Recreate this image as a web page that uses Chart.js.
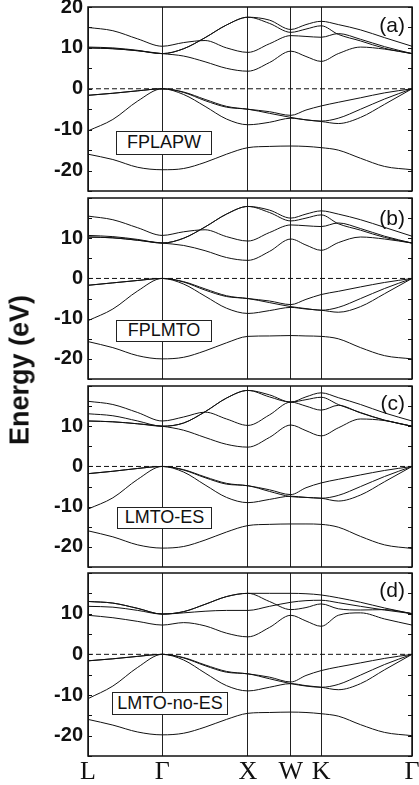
<!DOCTYPE html>
<html>
<head>
<meta charset="utf-8">
<script src="https://cdn.jsdelivr.net/npm/chart.js@4.4.1/dist/chart.umd.min.js"></script>
<style>
  body { margin: 0; background: #fff; }
  #fig { position: relative; width: 419px; height: 785px; overflow: hidden; font-family: 'Liberation Sans', Arial, sans-serif; color: #111; }
  #fig canvas { position: absolute; left: 0; }
  .tag { position: absolute; right: 14px; font-size: 21px; line-height: 22px; }
  .box { position: absolute; box-sizing: border-box; border: 1.5px solid #222; background: #fff; font-size: 18px; text-align: center; }
  .ylab { position: absolute; left: 20px; top: 370px; transform: translate(-50%, -50%) rotate(-90deg); font-size: 27px; font-weight: bold; white-space: nowrap; }
</style>
</head>
<body>
<div id="fig">
  <canvas id="pa" width="419" height="198" style="top:0"></canvas>
  <canvas id="pb" width="419" height="195" style="top:191px"></canvas>
  <canvas id="pc" width="419" height="195" style="top:379px"></canvas>
  <canvas id="pd" width="419" height="219" style="top:566px"></canvas>
  <div class="ylab">Energy (eV)</div>
  <div class="tag" style="top:14px">(a)</div>
  <div class="tag" style="top:207px">(b)</div>
  <div class="tag" style="top:392px">(c)</div>
  <div class="tag" style="top:579px">(d)</div>
  <div class="box" style="left:116px;top:131px;width:96px;height:24px;line-height:21px">FPLAPW</div>
  <div class="box" style="left:116px;top:320px;width:96px;height:22px;line-height:19px">FPLMTO</div>
  <div class="box" style="left:117px;top:507px;width:95px;height:22px;line-height:19px">LMTO-ES</div>
  <div class="box" style="left:112px;top:692px;width:116px;height:23px;line-height:20px">LMTO-no-ES</div>
</div>
<script>
// k-path L-Γ-X-W-K-Γ (fcc), distances in units of 2π/a
const K_PATH = [0, 0.29, 0.58, 0.866, 1.116, 1.366, 1.616, 1.866, 2.116, 2.366, 2.543, 2.72, 2.92, 3.18, 3.46, 3.78];
const SYM_K = [0, 0.866, 1.866, 2.366, 2.72, 3.78];
const SYM_LABELS = ['L', 'Γ', 'X', 'W', 'K', 'Γ'];
const FERMI_K = [0, 3.78];
const FERMI_E = [0, 0];

// (a) FPLAPW
const A_S  = [-16.0, -17.3, -19.2, -19.8, -19.5, -18.0, -16.0, -14.4, -14.1, -14.0, -14.1, -14.4, -15.0, -17.0, -19.0, -19.8];
const A_V1 = [-10.3, -7.5, -3.0, 0, -1.4, -4.3, -7.4, -8.8, -8.2, -7.2, -7.6, -8.0, -8.5, -7.0, -3.8, 0];
const A_V2 = [-1.6, -1.1, -0.5, 0, -0.8, -2.6, -4.3, -5.0, -5.6, -6.5, -5.2, -4.2, -3.3, -2.2, -1.0, 0];
const A_V3 = [-1.6, -1.1, -0.5, 0, -0.9, -2.9, -4.5, -5.0, -6.0, -7.0, -7.6, -7.9, -7.2, -5.0, -2.5, 0];
const A_C1 = [10.0, 9.8, 9.3, 8.6, 8.0, 6.6, 5.0, 4.3, 6.4, 9.2, 7.9, 6.7, 8.6, 10.2, 9.7, 8.6];
const A_C2 = [15.0, 14.2, 12.2, 10.4, 11.3, 11.8, 10.0, 8.9, 11.0, 13.0, 12.8, 12.6, 13.5, 12.1, 10.3, 8.6];
const A_C3 = [10.2, 10.0, 9.4, 8.6, 9.8, 12.5, 15.6, 17.5, 16.8, 14.5, 15.7, 16.5, 15.7, 14.4, 12.5, 10.4];
const A_C4 = [10.0, 9.8, 9.3, 8.6, 9.8, 12.5, 15.6, 17.5, 16.0, 13.8, 14.6, 15.4, 13.3, 11.7, 9.9, 8.6];

// (b) FPLMTO
const B_S  = [-15.7, -17.2, -19.2, -20.0, -19.6, -18.0, -16.0, -14.4, -14.3, -14.2, -14.3, -14.4, -15.0, -17.2, -19.2, -20.0];
const B_V1 = [-10.5, -7.6, -3.1, 0, -1.4, -4.4, -7.4, -8.7, -8.0, -7.2, -7.6, -7.9, -8.4, -7.0, -3.8, 0];
const B_V2 = [-1.7, -1.1, -0.5, 0, -0.8, -2.6, -4.3, -5.0, -5.6, -6.5, -5.2, -4.0, -3.2, -2.1, -1.0, 0];
const B_V3 = [-1.7, -1.1, -0.5, 0, -0.9, -2.9, -4.5, -5.0, -6.0, -7.0, -7.5, -7.9, -7.2, -5.0, -2.5, 0];
const B_C1 = [10.3, 10.1, 9.5, 8.8, 8.2, 6.9, 5.2, 4.5, 6.7, 9.8, 8.3, 7.0, 8.9, 10.3, 9.8, 8.8];
const B_C2 = [15.5, 14.6, 12.6, 10.7, 11.6, 12.1, 10.4, 9.3, 11.4, 13.3, 13.1, 12.9, 13.8, 12.4, 10.5, 8.8];
const B_C3 = [10.7, 10.4, 9.7, 8.8, 10.0, 12.8, 16.0, 17.9, 17.0, 15.0, 16.0, 16.8, 16.0, 14.6, 12.7, 10.5];
const B_C4 = [10.3, 10.1, 9.5, 8.8, 10.0, 12.8, 16.0, 17.9, 16.4, 14.3, 15.0, 15.8, 13.6, 12.0, 10.2, 8.8];

// (c) LMTO-ES
const C_S  = [-16.0, -17.5, -19.5, -20.3, -19.9, -18.3, -16.3, -14.7, -14.4, -14.3, -14.3, -14.4, -15.1, -17.4, -19.5, -20.4];
const C_V1 = [-10.6, -7.8, -3.2, 0, -1.4, -4.6, -7.7, -9.0, -8.2, -7.4, -7.7, -7.9, -8.6, -7.1, -3.8, 0];
const C_V2 = [-1.8, -1.2, -0.5, 0, -0.8, -2.6, -4.2, -4.8, -5.8, -7.0, -5.3, -4.1, -3.2, -2.1, -1.0, 0];
const C_V3 = [-1.8, -1.2, -0.5, 0, -0.9, -2.8, -4.4, -4.8, -6.2, -7.5, -7.7, -7.9, -7.2, -5.0, -2.5, 0];
const C_C1 = [11.3, 11.1, 10.6, 10.0, 9.0, 7.2, 5.5, 4.8, 7.2, 10.3, 8.9, 7.6, 9.6, 11.8, 11.4, 10.0];
const C_C2 = [16.2, 15.4, 13.4, 11.3, 12.3, 13.5, 11.8, 10.2, 12.8, 16.0, 15.0, 14.0, 15.2, 13.3, 11.5, 10.0];
const C_C3 = [13.1, 12.6, 11.3, 10.0, 10.8, 13.6, 17.0, 18.9, 17.8, 16.0, 17.3, 18.3, 17.1, 15.4, 13.3, 11.3];
const C_C4 = [11.3, 11.1, 10.6, 10.0, 10.8, 13.6, 17.0, 18.9, 17.3, 16.0, 16.6, 17.2, 15.4, 13.4, 11.5, 10.0];

// (d) LMTO-no-ES
const D_S  = [-16.0, -17.4, -19.1, -19.8, -19.4, -17.9, -16.0, -14.5, -14.3, -14.2, -14.3, -14.6, -15.2, -17.3, -19.2, -20.0];
const D_V1 = [-10.9, -7.8, -3.2, 0, -1.4, -4.6, -7.7, -9.0, -8.1, -7.2, -7.7, -8.1, -8.7, -7.2, -3.8, 0];
const D_V2 = [-1.6, -1.1, -0.5, 0, -0.8, -2.6, -4.2, -4.8, -5.6, -6.8, -5.2, -4.0, -3.1, -2.1, -1.0, 0];
const D_V3 = [-1.6, -1.1, -0.5, 0, -0.9, -2.8, -4.4, -4.8, -6.0, -7.2, -7.8, -8.1, -7.4, -5.1, -2.5, 0];
const D_C1 = [9.6, 9.0, 8.1, 7.2, 7.8, 7.0, 5.2, 4.3, 6.6, 9.6, 8.2, 6.9, 9.6, 10.2, 8.7, 7.2];
const D_C2 = [11.8, 11.6, 10.8, 9.9, 10.2, 10.6, 10.8, 10.8, 11.8, 12.8, 13.2, 13.3, 12.7, 11.8, 10.9, 10.0];
const D_C3 = [13.0, 12.6, 11.3, 9.9, 10.5, 12.3, 14.2, 15.0, 15.0, 15.0, 14.9, 14.6, 13.9, 12.8, 11.4, 10.0];
const D_C4 = [13.0, 12.6, 11.3, 9.9, 10.5, 12.3, 14.2, 15.0, 13.0, 11.0, 11.5, 12.4, 11.2, 10.9, 11.0, 10.0];

const INK = '#111';
const SANS = "'Liberation Sans', Arial, sans-serif";
const SERIF = "'Liberation Serif', 'Times New Roman', serif";

// box round the plot + short inward ticks on both sides
const frame = {
  id: 'frame',
  afterDatasetsDraw(chart) {
    const { ctx, chartArea: a, scales: { y } } = chart;
    ctx.save();
    ctx.strokeStyle = INK;
    ctx.lineWidth = 1.5;
    ctx.strokeRect(a.left, a.top, a.right - a.left, a.bottom - a.top);
    ctx.lineWidth = 1;
    ctx.beginPath();
    y.ticks.forEach((t) => {
      const py = Math.round(y.getPixelForValue(t.value)) + 0.5;
      ctx.moveTo(a.left, py); ctx.lineTo(a.left + 4, py);
      ctx.moveTo(a.right, py); ctx.lineTo(a.right - 4, py);
    });
    ctx.stroke();
    ctx.restore();
  },
};

function panel(id, bands, o) {
  const datasets = bands.map((b) => ({
    data: K_PATH.map((k, i) => ({ x: k, y: b[i] })),
    borderColor: INK, borderWidth: 1, pointRadius: 0, cubicInterpolationMode: 'monotone',
  }));
  datasets.push({
    data: FERMI_K.map((k, i) => ({ x: k, y: FERMI_E[i] })),
    borderColor: INK, borderWidth: 1, borderDash: [5, 3], pointRadius: 0,
  });
  new Chart(document.getElementById(id), {
    type: 'line',
    data: { datasets },
    options: {
      responsive: false, animation: false, events: [],
      layout: { padding: { top: 7, bottom: o.padBottom, left: 0, right: 7 } },
      plugins: { legend: { display: false }, tooltip: { enabled: false } },
      scales: {
        x: {
          type: 'linear', min: 0, max: 3.78,
          border: { display: false },
          grid: { color: '#222', lineWidth: 1, drawTicks: false, tickLength: 0 },
          afterBuildTicks: (s) => { s.ticks = SYM_K.map((v) => ({ value: v })); },
          ticks: {
            display: o.showK, autoSkip: false, maxRotation: 0, padding: 1, color: INK,
            font: { family: SERIF, size: 26 },
            callback: (v, i) => SYM_LABELS[i],
          },
          afterFit: (s) => { s.height = o.axisH; s.paddingLeft = 0; s.paddingRight = 0; },
        },
        y: {
          min: -25, max: 20,
          border: { display: false },
          grid: { drawOnChartArea: false, drawTicks: false, tickLength: 0 },
          ticks: {
            stepSize: 5, autoSkip: false, padding: 5, color: INK,
            font: { family: SANS, size: 20, weight: 'bold' },
            callback: (v) => (v % 10 === 0 && v > -25 && (v < 20 || o.showTop)) ? String(v) : '',
          },
          afterFit: (s) => { s.width = 88; s.paddingTop = 0; s.paddingBottom = 0; },
        },
      },
    },
    plugins: [frame],
  });
}

panel('pa', [A_S, A_V1, A_V2, A_V3, A_C1, A_C2, A_C3, A_C4], { showTop: true, showK: false, padBottom: 7, axisH: 0 });
panel('pb', [B_S, B_V1, B_V2, B_V3, B_C1, B_C2, B_C3, B_C4], { showTop: false, showK: false, padBottom: 7, axisH: 0 });
panel('pc', [C_S, C_V1, C_V2, C_V3, C_C1, C_C2, C_C3, C_C4], { showTop: false, showK: false, padBottom: 7, axisH: 0 });
panel('pd', [D_S, D_V1, D_V2, D_V3, D_C1, D_C2, D_C3, D_C4], { showTop: false, showK: true, padBottom: 0, axisH: 29 });
</script>
</body>
</html>
